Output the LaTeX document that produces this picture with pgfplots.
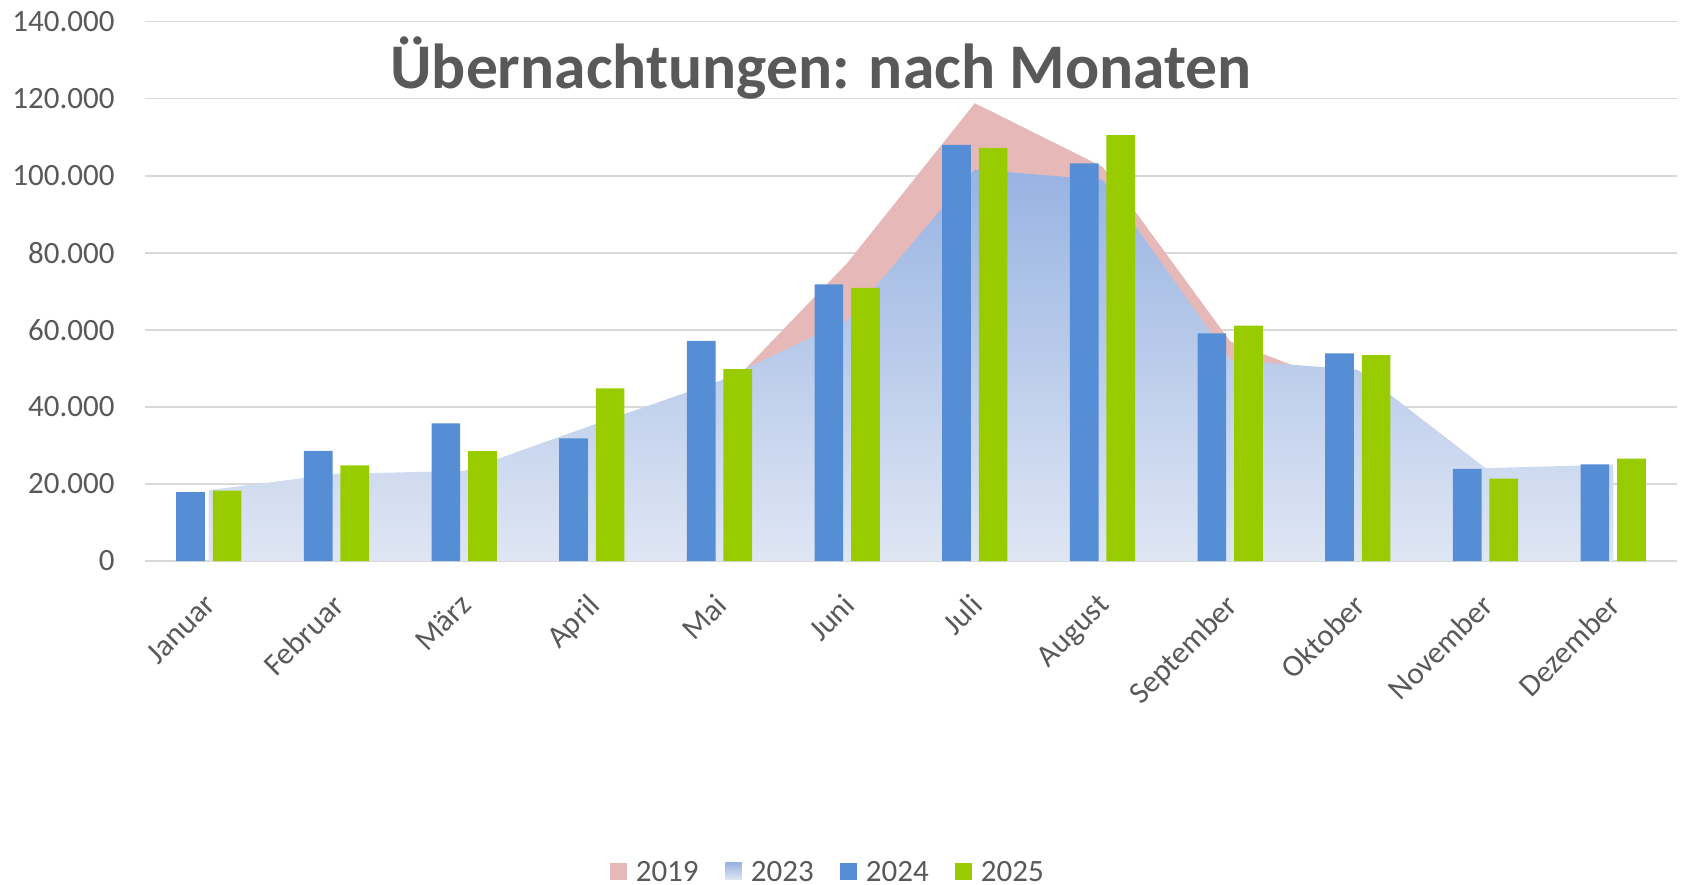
\documentclass[border=0pt]{standalone}
\usepackage{pgfplots}
\pgfplotsset{compat=1.18}
\usepackage{fontspec}
\setmainfont{Carlito}
\definecolor{cNineteen}{HTML}{E6B9B8}
\definecolor{cTopBlue}{HTML}{98B3E2}
\definecolor{cBotBlue}{HTML}{DFE6F4}
\definecolor{cBarBlue}{HTML}{558ED5}
\definecolor{cBarGreen}{HTML}{99CC00}
\definecolor{cGrid}{HTML}{D9D9D9}
\definecolor{cText}{HTML}{595959}
\begin{document}
\begin{tikzpicture}
\useasboundingbox (-72.5pt,-161.5pt) rectangle (770.5pt,280.5pt);
\begin{axis}[
  at={(0pt,0pt)}, anchor=south west,
  scale only axis, width=766pt, height=269.75pt,
  xmin=-0.5, xmax=11.5, ymin=0, ymax=140000,
  axis line style={draw=none},
  major tick length=0pt,
  tick style={draw=none},
  ymajorgrids, grid style={cGrid, line width=0.9pt},
  ytick={0,20000,40000,60000,80000,100000,120000,140000},
  scaled y ticks=false,
  /pgf/number format/.cd, fixed, use comma, 1000 sep={.}, assume math mode=true,
  /pgfplots/.cd,
  xtick={0,1,2,3,4,5,6,7,8,9,10,11},
  xticklabels={Januar,Februar,März,April,Mai,Juni,Juli,August,September,Oktober,November,Dezember},
  tick label style={font=\fontsize{15.5}{18}\selectfont, text=cText},
  yticklabel style={inner sep=0pt, anchor=east, xshift=-15pt},
  xticklabel style={inner sep=0pt, xshift=-3pt, yshift=-15.5pt, rotate=45, anchor=north east},
  no markers,
  legend columns=4,
  legend style={at={(0.4455,-0.5775)}, anchor=center, draw=none, fill=none,
    font=\fontsize{15.5}{18}\selectfont, text=cText,
    nodes={inner sep=0.5pt},
    /tikz/every odd column/.style={column sep=4pt},
    /tikz/every even column/.style={column sep=12.8pt}},
  legend image code/.code={\path[#1,draw=none] (0pt,-3.5pt) rectangle (8.3pt,4.8pt);},
]
\addplot[draw=none, fill=cNineteen] coordinates {
 (0,17000) (1,21000) (2,22000) (3,32500) (4,42900) (5,77300)
 (6,118800) (7,102300) (8,57000) (9,44300) (10,22000) (11,23000)} \closedcycle;
\addlegendentry{2019}
\addplot[draw=none, top color=cTopBlue, bottom color=cBotBlue] coordinates {
 (0,18400) (1,22600) (2,23400) (3,35200) (4,46700) (5,62500)
 (6,101600) (7,98900) (8,52200) (9,49600) (10,24100) (11,25000)} \closedcycle;
\addlegendentry{2023}
\addplot[ybar, bar width=14.35pt, bar shift=-9.15pt, fill=cBarBlue, draw=none] coordinates {
 (0,17900) (1,28600) (2,35700) (3,31800) (4,57100) (5,71800)
 (6,108000) (7,103200) (8,59100) (9,53900) (10,23900) (11,25100)};
\addlegendentry{2024}
\addplot[ybar, bar width=14.35pt, bar shift=9.15pt, fill=cBarGreen, draw=none] coordinates {
 (0,18250) (1,24800) (2,28500) (3,44800) (4,49800) (5,70900)
 (6,107200) (7,110500) (8,61100) (9,53400) (10,21400) (11,26600)};
\addlegendentry{2025}
\end{axis}
\node[anchor=base, inner sep=0pt, text=cText, font=\bfseries\fontsize{31.8}{38}\selectfont] at (338pt,236pt) {Übernachtungen: nach Monaten};
\end{tikzpicture}
\end{document}
